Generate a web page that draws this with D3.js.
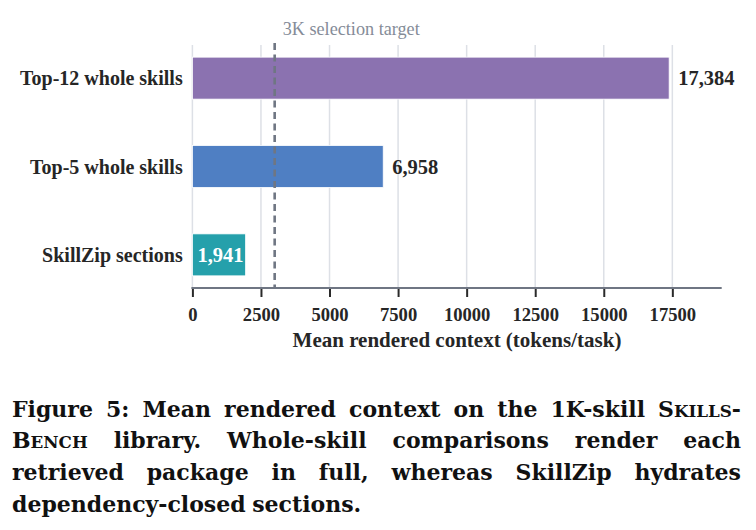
<!DOCTYPE html>
<html>
<head>
<meta charset="utf-8">
<script src="https://cdn.jsdelivr.net/npm/d3@7"></script>
<style>
  html, body { margin: 0; padding: 0; background: #fff; }
  svg { display: block; }
</style>
</head>
<body>
<div id="chart"></div>
<script>
// ── Data ──────────────────────────────────────────────────────────────────────
var categories = ['Top-12 whole skills', 'Top-5 whole skills', 'SkillZip sections'];
var tokens     = [17384, 6958, 1941];
var barColors  = ['#8b72b0', '#4f7fc3', '#25a0ab'];
var labelInside = [false, false, true];
var xTicks     = [0, 2500, 5000, 7500, 10000, 12500, 15000, 17500];
var targetValue = 3000;
var targetLabel = '3K selection target';
var xTitle     = 'Mean rendered context (tokens/task)';
var xMax       = 19300;

// caption lines; each word is a list of [text, smallCaps]
var captionLines = [
  [[['Figure', 0]], [['5:', 0]], [['Mean', 0]], [['rendered', 0]], [['context', 0]], [['on', 0]], [['the', 0]],
   [['1K-skill', 0]], [['S', 0], ['KILLS', 1], ['-', 0]]],
  [[['B', 0], ['ENCH', 1]], [['library.', 0]], [['Whole-skill', 0]], [['comparisons', 0]], [['render', 0]], [['each', 0]]],
  [[['retrieved', 0]], [['package', 0]], [['in', 0]], [['full,', 0]], [['whereas', 0]], [['SkillZip', 0]], [['hydrates', 0]]],
  [[['dependency-closed', 0]], [['sections.', 0]]]
];

(function() {
  var W = 756, H = 530;
  var FONT = '"Liberation Serif", "Times New Roman", serif';
  var CAPFONT = '"DejaVu Serif", serif';

  var svg = d3.select('#chart').append('svg')
    .attr('width', W).attr('height', H);

  var x = d3.scaleLinear().domain([0, xMax]).range([192.4, 721.7]);
  var y = d3.scaleBand().domain(categories).range([45, 288])
    .paddingInner(0.525).paddingOuter(0.1375);

  // ── Gridlines ──────────────────────────────────────────────────────────────
  svg.append('g').selectAll('line').data(xTicks).enter().append('line')
    .attr('x1', function(d) { return x(d); }).attr('x2', function(d) { return x(d); })
    .attr('y1', 45).attr('y2', 288)
    .attr('stroke', '#dde0e6').attr('stroke-width', 1.5);

  // ── Bars ───────────────────────────────────────────────────────────────────
  svg.append('g').selectAll('rect').data(categories).enter().append('rect')
    .attr('x', x(0))
    .attr('y', function(d) { return y(d); })
    .attr('width', function(d, i) { return x(tokens[i]) - x(0); })
    .attr('height', y.bandwidth())
    .attr('fill', function(d, i) { return barColors[i]; })
    .attr('stroke', '#fff').attr('stroke-width', 0.8);

  // ── Target line ────────────────────────────────────────────────────────────
  svg.append('line')
    .attr('x1', x(targetValue)).attr('x2', x(targetValue))
    .attr('y1', 43).attr('y2', 288)
    .attr('stroke', '#6f7683').attr('stroke-width', 2.6)
    .attr('stroke-dasharray', '7,4.5');

  svg.append('text')
    .attr('x', x(targetValue) + 8).attr('y', 35)
    .attr('font-family', FONT).attr('font-size', 18.2)
    .attr('fill', '#858c98')
    .text(targetLabel);

  // ── Value labels ───────────────────────────────────────────────────────────
  svg.append('g').selectAll('text').data(categories).enter().append('text')
    .attr('x', function(d, i) { return labelInside[i] ? x(0) + 5 : x(tokens[i]) + 9; })
    .attr('y', function(d) { return y(d) + y.bandwidth() / 2; })
    .attr('dy', '0.35em')
    .attr('font-family', FONT).attr('font-size', 20.5).attr('font-weight', 'bold')
    .attr('fill', function(d, i) { return labelInside[i] ? '#fff' : '#262626'; })
    .text(function(d, i) { return d3.format(',')(tokens[i]); });

  // ── Category labels ────────────────────────────────────────────────────────
  svg.append('g').selectAll('text').data(categories).enter().append('text')
    .attr('x', 182.7)
    .attr('y', function(d) { return y(d) + y.bandwidth() / 2; })
    .attr('dy', '0.35em')
    .attr('text-anchor', 'end')
    .attr('font-family', FONT).attr('font-size', 20).attr('font-weight', 'bold')
    .attr('fill', '#262626')
    .text(function(d) { return d; });

  // ── X axis ─────────────────────────────────────────────────────────────────
  var axis = svg.append('g').attr('transform', 'translate(0,288)')
    .call(d3.axisBottom(x).tickValues(xTicks).tickFormat(d3.format('d'))
      .tickSize(9).tickPadding(11));
  axis.select('.domain').remove();
  axis.selectAll('.tick line').attr('stroke', '#2a2a2a').attr('stroke-width', 2);
  axis.selectAll('.tick text')
    .attr('font-family', FONT).attr('font-size', 18.6).attr('font-weight', 'bold')
    .attr('fill', '#262626');
  svg.append('line')
    .attr('x1', x(0) - 1).attr('x2', x(xMax)).attr('y1', 288).attr('y2', 288)
    .attr('stroke', '#6f7683').attr('stroke-width', 2);

  svg.append('text')
    .attr('x', 457).attr('y', 347)
    .attr('text-anchor', 'middle')
    .attr('font-family', FONT).attr('font-size', 21).attr('font-weight', 'bold')
    .attr('fill', '#262626')
    .text(xTitle);

  // ── Caption (justified) ────────────────────────────────────────────────────
  var capLeft = 12, capRight = 741, capSize = 22;
  var baselines = [416.7, 448.3, 480.3, 511.7];
  var capG = svg.append('g')
    .attr('font-family', CAPFONT).attr('font-size', capSize).attr('font-weight', 'bold')
    .attr('fill', '#111');

  captionLines.forEach(function(words, li) {
    var nodes = words.map(function(segs) {
      var t = capG.append('text').attr('y', baselines[li]);
      segs.forEach(function(s) {
        t.append('tspan')
          .attr('font-size', s[1] ? capSize * 0.76 : capSize)
          .text(s[0]);
      });
      return t;
    });
    var widths = nodes.map(function(t) { return t.node().getComputedTextLength(); });
    var total = d3.sum(widths);
    var last = li === captionLines.length - 1;
    var gap = last ? capSize * 0.3 : (capRight - capLeft - total) / (nodes.length - 1);
    var cx = capLeft;
    nodes.forEach(function(t, i) {
      t.attr('x', cx);
      cx += widths[i] + gap;
    });
  });
})();
</script>
</body>
</html>
